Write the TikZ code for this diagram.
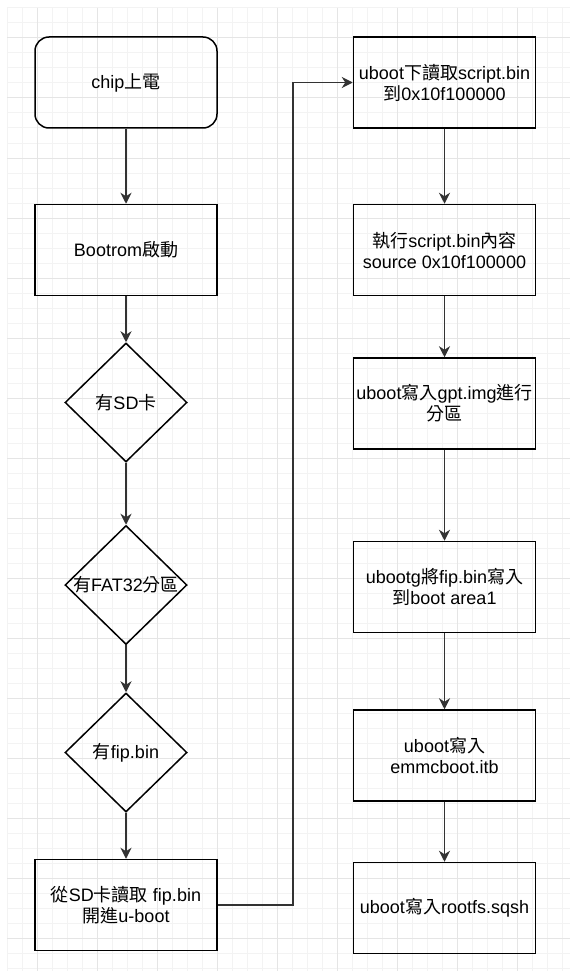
\documentclass[tikz,border=0pt]{standalone}
\usepackage{fontspec}
\setmainfont{Liberation Sans}
\newfontfamily\zhfont{Noto Sans CJK TC}
\newcommand{\zh}[1]{{\zhfont #1}}
\usepackage{tikz}
\usetikzlibrary{arrows.meta,positioning,shapes.geometric}
\definecolor{gridminor}{RGB}{243,243,243}
\definecolor{gridmajor}{RGB}{229,229,229}
\definecolor{edgegray}{RGB}{51,51,51}
\tikzset{
  stepbox/.style ={draw, line width=1.5pt, align=center,
                   minimum width=182pt, minimum height=91pt,
                   inner sep=2pt, font=\fontsize{18}{21}\selectfont},
  startbox/.style={stepbox, rounded corners=14pt},
  decbox/.style  ={draw, diamond, line width=1.5pt,
                   minimum width=122pt, minimum height=119pt,
                   inner sep=0pt, font=\fontsize{18}{21}\selectfont},
  arr/.style     ={-{Stealth[length=11pt,width=11pt,inset=3.5pt]},
                   line width=1.5pt, draw=edgegray},
  gminor/.style  ={draw=gridminor, line width=1pt},
  gmajor/.style  ={draw=gridmajor, line width=1pt},
}

\begin{document}
\begin{tikzpicture}[x=1pt,y=-1pt]
  \useasboundingbox (0,0) rectangle (570,971);
  % grid
  \foreach \gx in {7,22,...,570} \draw[gminor] (\gx,8) -- (\gx,971);
  \foreach \gy in {8,23,...,971} \draw[gminor] (7,\gy) -- (570,\gy);
  \foreach \gx in {37,97,...,570} \draw[gmajor] (\gx,8) -- (\gx,971);
  \foreach \gy in {38,98,...,971} \draw[gmajor] (7,\gy) -- (570,\gy);

  % left column
  \node[startbox] (chip) at (126,82.5) {chip\zh{上電}};
  \node[stepbox, below=75pt of chip] (boot) {Bootrom\zh{啟動}};
  \node[decbox, below=46pt of boot] (sd) {\makebox[0pt]{\zh{有}SD\zh{卡}}};
  \node[decbox, below=62pt of sd] (fat) {\makebox[0pt]{\zh{有}FAT32\zh{分區}}};
  \node[decbox, below=47pt of fat] (fip) {\makebox[0pt]{\zh{有}fip.bin}};
  \node[stepbox, below=46pt of fip] (load) {\zh{從}SD\zh{卡讀取} fip.bin\\\zh{開進}u-boot};

  % right column
  \node[stepbox, right=135pt of chip] (rdscr) {uboot\zh{下讀取}script.bin\\\zh{到}0x10f100000};
  \node[stepbox, below=75pt of rdscr] (exscr) {\zh{執行}script.bin\zh{內容}\\source 0x10f100000};
  \node[stepbox, below=61pt of exscr] (gpt) {uboot\zh{寫入}gpt.img\zh{進行}\\\zh{分區}};
  \node[stepbox, below=91pt of gpt] (area) {ubootg\zh{將}fip.bin\zh{寫入}\\\zh{到}boot area1};
  \node[stepbox, below=76pt of area] (emmc) {uboot\zh{寫入}\\emmcboot.itb};
  \node[stepbox, below=60pt of emmc] (rootfs) {uboot\zh{寫入}rootfs.sqsh};

  \draw[arr] (chip) -- (boot);
  \draw[arr] (boot) -- (sd);
  \draw[arr] (sd) -- (fat);
  \draw[arr] (fat) -- (fip);
  \draw[arr] (fip) -- (load);
  \draw[arr] (load.east) -- ++(75,0) |- (rdscr.west);
  \draw[arr] (rdscr) -- (exscr);
  \draw[arr] (exscr) -- (gpt);
  \draw[arr] (gpt) -- (area);
  \draw[arr] (area) -- (emmc);
  \draw[arr] (emmc) -- (rootfs);
\end{tikzpicture}
\end{document}
